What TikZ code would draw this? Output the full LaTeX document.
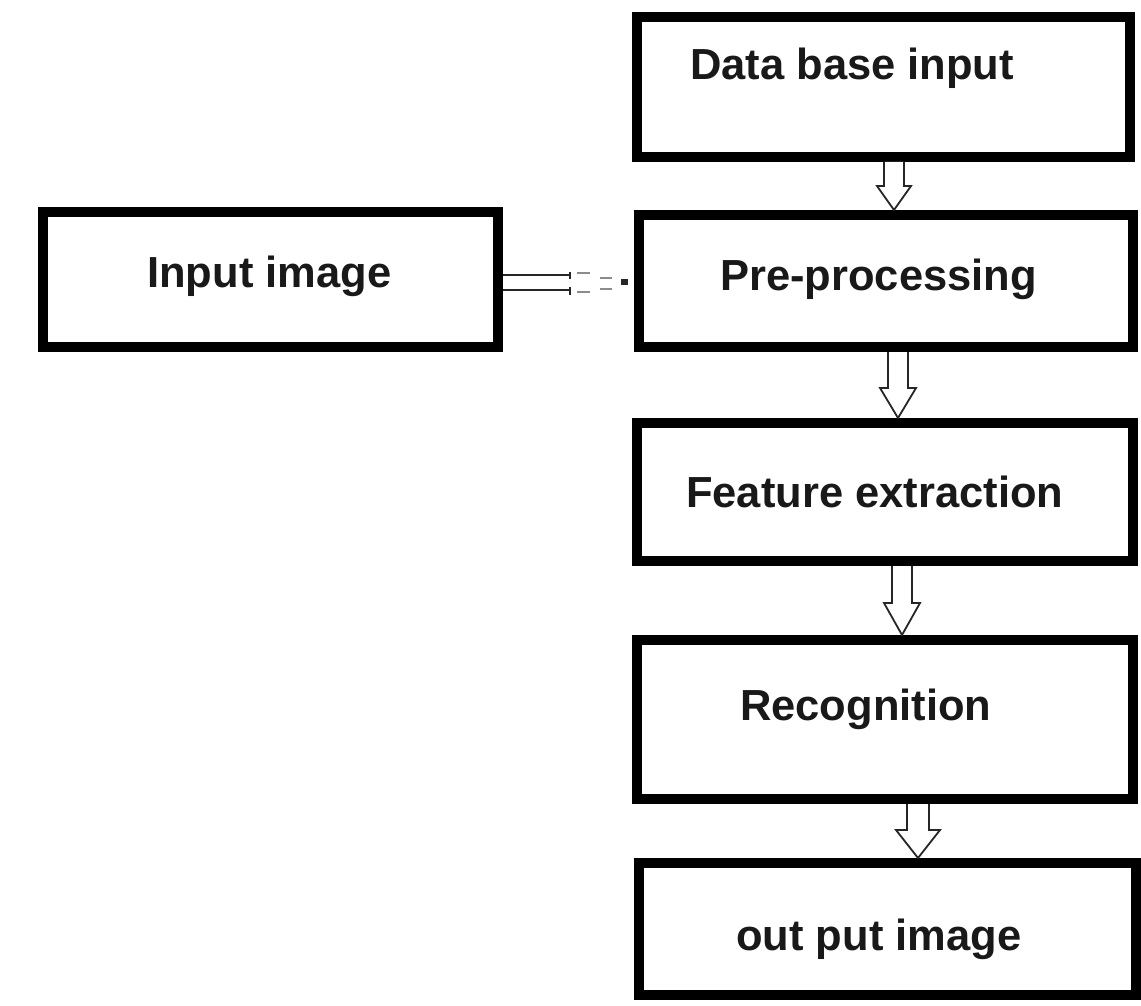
\documentclass[tikz,border=0pt]{standalone}
\usepackage{fontspec}
\setmainfont{Liberation Sans}
\usetikzlibrary{calc}
\newcommand\blockdown[6]{%
  \draw[blockarr] let \p1=(#1.south), \p2=(#2.north) in
    ({#3pt-#4pt},\y1) -- ({#3pt-#4pt},{\y2+#6pt}) -- ({#3pt-#5pt},{\y2+#6pt}) --
    (#3pt,\y2) -- ({#3pt+#5pt},{\y2+#6pt}) -- ({#3pt+#4pt},{\y2+#6pt}) -- ({#3pt+#4pt},\y1);}
\begin{document}
\begin{tikzpicture}[x=1pt,y=-1pt,
  box/.style={draw=black, line width=10pt, rectangle, inner sep=0pt},
  lbl/.style={anchor=base west, inner sep=0pt, font=\bfseries\fontsize{43.5}{50}\selectfont, text=black!90},
  blockarr/.style={draw=black!85, line width=1.8pt, fill=white, line join=miter},
  conn/.style={draw=black!85, line width=2.2pt},
  dashseg/.style={draw=black!45, line width=2pt}]
\fill[white] (0,0) rectangle (1141,1006);
\useasboundingbox (0,0) rectangle (1141,1006);

% boxes
\node[box, minimum width=493pt, minimum height=140pt] (db)  at (883.5,87) {};
\node[box, minimum width=494pt, minimum height=132pt] (pre) at (886,281) {};
\node[box, minimum width=496pt, minimum height=138pt] (fe)  at (885,492) {};
\node[box, minimum width=496pt, minimum height=159pt] (rec) at (885,719.5) {};
\node[box, minimum width=497pt, minimum height=132pt] (out) at (887.5,929) {};
\node[box, minimum width=455pt, minimum height=135pt] (inp) at (270.5,279.5) {};

% labels
\node[lbl] (tdb)  at (690,80)  {Data base input};
\node[lbl] (tpre) at (720,290) {Pre-processing};
\node[lbl] (tfe)  at (686,507) {Feature extraction};
\node[lbl] (trec) at (740,720) {Recognition};
\node[lbl] (tout) at (736,950) {out put image};
\node[lbl] (tinp) at (147,287) {Input image};

% block arrows
\blockdown{db}{pre}{894}{10}{17}{24}
\blockdown{pre}{fe}{898}{10}{18}{30}
\blockdown{fe}{rec}{902}{10}{18}{32}
\blockdown{rec}{out}{918}{11}{22}{28}

% connector input image -> pre-processing
\draw[conn] ($(inp.east)+(0,-4.5)$) -- ++(67,0);
\draw[conn] ($(inp.east)+(0,10.5)$) -- ++(67,0);
\draw[conn, line width=1.6pt] ($(inp.east)+(67,-8)$) -- ++(0,7);
\draw[conn, line width=1.6pt] ($(inp.east)+(67,7)$) -- ++(0,8);
\draw[dashseg] ($(pre.west)+(-57,-8)$) -- ++(13,0);
\draw[dashseg] ($(pre.west)+(-34,-3)$) -- ++(12,0);
\draw[dashseg] ($(pre.west)+(-57,11)$) -- ++(13,0);
\draw[dashseg] ($(pre.west)+(-34,8)$) -- ++(12,0);
\fill[black!85] ($(pre.west)+(-13,-2)$) rectangle ++(7,6);
\end{tikzpicture}
\end{document}
